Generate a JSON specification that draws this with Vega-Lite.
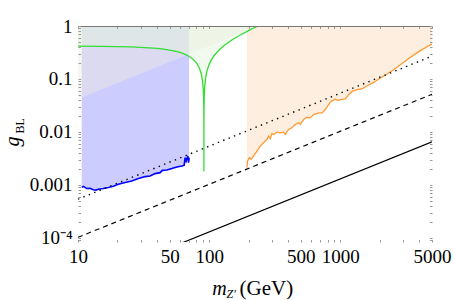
{
  "$schema": "https://vega.github.io/schema/vega-lite/v6.json",
  "width": 354,
  "height": 216,
  "autosize": "none",
  "padding": {"left": 78, "top": 26, "right": 22, "bottom": 58},
  "background": "white",
  "config": {"view": {"stroke": null}, "axis": {"grid": false}},
  "datasets": {
    "blue": [
      {"m": 10.67, "g": 0.00090}, {"m": 10.98, "g": 0.00094}, {"m": 11.3, "g": 0.00090}, {"m": 11.65, "g": 0.00086},
      {"m": 12.35, "g": 0.00087}, {"m": 13.09, "g": 0.00081}, {"m": 13.7, "g": 0.00080}, {"m": 14.29, "g": 0.00083},
      {"m": 15.6, "g": 0.00086}, {"m": 17.03, "g": 0.00090}, {"m": 18.6, "g": 0.00095}, {"m": 20.3, "g": 0.00103},
      {"m": 22.85, "g": 0.00111}, {"m": 25.7, "g": 0.00119}, {"m": 28.87, "g": 0.00132}, {"m": 32.48, "g": 0.00144},
      {"m": 35.44, "g": 0.00148}, {"m": 38.71, "g": 0.00164}, {"m": 42.27, "g": 0.00171}, {"m": 44.01, "g": 0.00189},
      {"m": 47.55, "g": 0.00192}, {"m": 51.92, "g": 0.00204}, {"m": 56.68, "g": 0.00218}, {"m": 61.89, "g": 0.00228},
      {"m": 64.45, "g": 0.00235}, {"m": 65.58, "g": 0.00328}, {"m": 66.75, "g": 0.00283}, {"m": 68.78, "g": 0.00352},
      {"m": 69.6, "g": 0.00264}, {"m": 70.37, "g": 0.00328}
    ],
    "orange": [
      {"m": 194, "g": 0.00213}, {"m": 196.1, "g": 0.00283}, {"m": 203.1, "g": 0.00328}, {"m": 209.3, "g": 0.00305},
      {"m": 217.9, "g": 0.00352}, {"m": 231.3, "g": 0.00437}, {"m": 245.1, "g": 0.00542}, {"m": 259.8, "g": 0.00627},
      {"m": 275.8, "g": 0.00723}, {"m": 283.6, "g": 0.00834}, {"m": 292.2, "g": 0.00745}, {"m": 301.1, "g": 0.00937},
      {"m": 309.6, "g": 0.00898}, {"m": 328.7, "g": 0.00991}, {"m": 348.3, "g": 0.00966}, {"m": 369.1, "g": 0.00991},
      {"m": 380.3, "g": 0.00898}, {"m": 403.0, "g": 0.01115}, {"m": 428.0, "g": 0.01199}, {"m": 453.5, "g": 0.01383},
      {"m": 480.6, "g": 0.01489}, {"m": 495.2, "g": 0.01383}, {"m": 524.7, "g": 0.01717}, {"m": 556.9, "g": 0.01897},
      {"m": 590.2, "g": 0.01849}, {"m": 625.5, "g": 0.02132}, {"m": 683.1, "g": 0.02296}, {"m": 725.2, "g": 0.02296},
      {"m": 768.5, "g": 0.02648}, {"m": 814.4, "g": 0.03284}, {"m": 849.4, "g": 0.03787}, {"m": 915.6, "g": 0.0415},
      {"m": 960, "g": 0.03954}, {"m": 1000, "g": 0.04077}, {"m": 1092, "g": 0.04203}, {"m": 1157, "g": 0.0506},
      {"m": 1228, "g": 0.0583}, {"m": 1341, "g": 0.0629}, {"m": 1464, "g": 0.0648}, {"m": 1599, "g": 0.0747},
      {"m": 1796, "g": 0.0861}, {"m": 2020, "g": 0.1042}, {"m": 2273, "g": 0.1239}, {"m": 2552, "g": 0.1492},
      {"m": 2871, "g": 0.1852}, {"m": 3230, "g": 0.2299}, {"m": 3627, "g": 0.2853}, {"m": 4081, "g": 0.3436},
      {"m": 4589, "g": 0.4087}, {"m": 4864, "g": 0.4399}, {"m": 5000, "g": 0.4534}
    ],
    "green": [
      {"m": 10, "g": 0.4175}, {"m": 15, "g": 0.4143}, {"m": 20, "g": 0.4098}, {"m": 25, "g": 0.4039},
      {"m": 30, "g": 0.3966}, {"m": 35, "g": 0.3878}, {"m": 40, "g": 0.3774}, {"m": 45, "g": 0.3653},
      {"m": 50, "g": 0.3512}, {"m": 55, "g": 0.335}, {"m": 60, "g": 0.3163}, {"m": 65, "g": 0.2946},
      {"m": 70, "g": 0.2692}, {"m": 75, "g": 0.2389}, {"m": 80, "g": 0.2016}, {"m": 84, "g": 0.1635},
      {"m": 87, "g": 0.1259}, {"m": 89, "g": 0.0915}, {"m": 90, "g": 0.0677}, {"m": 90.7, "g": 0.0435},
      {"m": 91.0, "g": 0.0271}, {"m": 91.15, "g": 0.0125}, {"m": 91.19, "g": 0.0018}, {"m": 91.25, "g": 0.0152},
      {"m": 91.4, "g": 0.0285}, {"m": 91.8, "g": 0.0487}, {"m": 92.5, "g": 0.0714}, {"m": 94, "g": 0.1051},
      {"m": 96, "g": 0.1381}, {"m": 100, "g": 0.189}, {"m": 105, "g": 0.2397}, {"m": 110, "g": 0.2834},
      {"m": 120, "g": 0.3593}, {"m": 130, "g": 0.4268}, {"m": 140, "g": 0.4893}, {"m": 150, "g": 0.5486},
      {"m": 165, "g": 0.6333}, {"m": 180, "g": 0.7148}, {"m": 200, "g": 0.8198}, {"m": 215, "g": 0.8968},
      {"m": 230, "g": 0.9725}, {"m": 235, "g": 0.9975}
    ],
    "tri": [{"m": 10, "g": 0.042}, {"m": 238, "g": 1.0}],
    "dotted": [{"m": 10, "g": 0.00054}, {"m": 5000, "g": 0.27}],
    "dashed": [{"m": 10, "g": 0.000103}, {"m": 5000, "g": 0.0515}],
    "solid": [{"m": 60, "g": 0.000078}, {"m": 5000, "g": 0.0065}]
  },
  "resolve": {"axis": {"x": "independent", "y": "independent"}},
  "layer": [
    {
      "data": {"name": "blue"},
      "mark": {"type": "area", "color": "#ccccff", "opacity": 1, "clip": true},
      "encoding": {
        "x": {"field": "m", "type": "quantitative", "scale": {"type": "log", "domain": [10, 5000], "nice": false},
          "axis": {"orient": "bottom", "values": [10, 50, 100, 500, 1000, 5000], "format": "d", "ticks": false, "domain": false,
            "labelFont": "Liberation Serif, Times New Roman, serif", "labelFontSize": 19, "labelColor": "#000", "labelPadding": 5, "labelFlush": false, "labelOverlap": false,
            "title": "(GeV)", "titleFont": "Liberation Serif, Times New Roman, serif", "titleFontSize": 21, "titleFontWeight": "normal", "titleColor": "#000",
            "titleX": 161, "titleY": 52, "titleAlign": "left", "titleBaseline": "alphabetic", "titlePadding": 0}},
        "y": {"field": "g", "type": "quantitative", "scale": {"type": "log", "domain": [0.000084, 1], "nice": false},
          "axis": {"orient": "left", "values": [0.0001, 0.001, 0.01, 0.1, 1], "ticks": false, "domain": false,
            "labelExpr": "datum.value > 0.5 ? '1' : datum.value > 0.05 ? '0.1' : datum.value > 0.005 ? '0.01' : datum.value > 0.0005 ? '0.001' : '10⁻⁴'",
            "labelFont": "Liberation Serif, Times New Roman, serif", "labelFontSize": 19, "labelColor": "#000", "labelPadding": 6, "labelFlush": false, "labelOverlap": false,
            "labelBaseline": "middle", "title": null}},
        "y2": {"datum": 1}
      }
    },
    {
      "data": {"name": "orange"},
      "mark": {"type": "area", "color": "#fdeee0", "opacity": 1, "clip": true},
      "encoding": {
        "x": {"field": "m", "type": "quantitative", "scale": {"type": "log", "domain": [10, 5000], "nice": false},
          "axis": {"orient": "bottom", "values": [10, 20, 30, 40, 50, 60, 70, 80, 90, 100, 200, 300, 400, 500, 600, 700, 800, 900, 1000, 2000, 3000, 4000, 5000],
            "labels": false, "domain": false, "ticks": true, "tickSize": -2.5, "tickColor": "#999", "tickWidth": 1, "title": null, "zindex": 2}},
        "y": {"field": "g", "type": "quantitative", "scale": {"type": "log", "domain": [0.000084, 1], "nice": false},
          "axis": {"orient": "left", "values": [0.00009, 0.0001, 0.0002, 0.0003, 0.0004, 0.0005, 0.0006, 0.0007, 0.0008, 0.0009, 0.001, 0.002, 0.003, 0.004, 0.005, 0.006, 0.007, 0.008, 0.009, 0.01, 0.02, 0.03, 0.04, 0.05, 0.06, 0.07, 0.08, 0.09, 0.1, 0.2, 0.3, 0.4, 0.5, 0.6, 0.7, 0.8, 0.9, 1],
            "labels": false, "domain": false, "ticks": true, "tickSize": -2.5, "tickColor": "#999", "tickWidth": 1, "title": null, "zindex": 2}},
        "y2": {"datum": 1}
      }
    },
    {
      "data": {"name": "tri"},
      "mark": {"type": "area", "color": "#f0ebe1", "opacity": 0.45, "clip": true},
      "encoding": {
        "x": {"field": "m", "type": "quantitative", "scale": {"type": "log", "domain": [10, 5000], "nice": false},
          "axis": {"orient": "bottom", "labels": false, "ticks": false, "domain": false, "title": "m", "titleFont": "Liberation Serif, Times New Roman, serif", "titleFontStyle": "italic",
            "titleFontSize": 20, "titleFontWeight": "normal", "titleColor": "#000", "titleX": 133.7, "titleY": 52, "titleAlign": "left", "titleBaseline": "alphabetic", "titlePadding": 0}},
        "y": {"field": "g", "type": "quantitative", "scale": {"type": "log", "domain": [0.000084, 1], "nice": false},
          "axis": {"orient": "left", "labels": false, "ticks": false, "domain": false, "title": "g", "titleFont": "Liberation Serif, Times New Roman, serif", "titleFontStyle": "italic",
            "titleFontSize": 20, "titleFontWeight": "normal", "titleColor": "#000", "titleAngle": 270, "titleX": -60, "titleY": 120, "titleAlign": "left", "titleBaseline": "alphabetic", "titlePadding": 0}},
        "y2": {"datum": 1}
      }
    },
    {
      "data": {"name": "green"},
      "mark": {"type": "area", "color": "#e2f4db", "opacity": 0.45, "clip": true},
      "encoding": {
        "x": {"field": "m", "type": "quantitative", "scale": {"type": "log", "domain": [10, 5000], "nice": false},
          "axis": {"orient": "top", "values": [10, 20, 30, 40, 50, 60, 70, 80, 90, 100, 200, 300, 400, 500, 600, 700, 800, 900, 1000, 2000, 3000, 4000, 5000],
            "labels": false, "domain": true, "domainColor": "#777", "domainWidth": 1, "ticks": true, "tickSize": -2.5, "tickColor": "#999", "tickWidth": 1, "title": null, "zindex": 2}},
        "y": {"field": "g", "type": "quantitative", "scale": {"type": "log", "domain": [0.000084, 1], "nice": false},
          "axis": {"orient": "right", "values": [0.00009, 0.0001, 0.0002, 0.0003, 0.0004, 0.0005, 0.0006, 0.0007, 0.0008, 0.0009, 0.001, 0.002, 0.003, 0.004, 0.005, 0.006, 0.007, 0.008, 0.009, 0.01, 0.02, 0.03, 0.04, 0.05, 0.06, 0.07, 0.08, 0.09, 0.1, 0.2, 0.3, 0.4, 0.5, 0.6, 0.7, 0.8, 0.9, 1],
            "labels": false, "domain": false, "ticks": true, "tickSize": -2.5, "tickColor": "#999", "tickWidth": 1, "title": null, "zindex": 2}},
        "y2": {"datum": 1}
      }
    },
    {
      "data": {"name": "green"},
      "mark": {"type": "line", "color": "#33dd33", "strokeWidth": 1.3, "clip": true},
      "encoding": {
        "x": {"field": "m", "type": "quantitative", "scale": {"type": "log", "domain": [10, 5000], "nice": false},
          "axis": {"orient": "bottom", "labels": false, "ticks": false, "domain": false, "title": "Z′", "titleFont": "Liberation Serif, Times New Roman, serif", "titleFontStyle": "italic",
            "titleFontSize": 12, "titleFontWeight": "normal", "titleColor": "#000", "titleX": 148, "titleY": 55.5, "titleAlign": "left", "titleBaseline": "alphabetic", "titlePadding": 0}},
        "y": {"field": "g", "type": "quantitative", "scale": {"type": "log", "domain": [0.000084, 1], "nice": false},
          "axis": {"orient": "left", "labels": false, "ticks": false, "domain": false, "title": "BL", "titleFont": "Liberation Serif, Times New Roman, serif",
            "titleFontSize": 12, "titleFontWeight": "normal", "titleColor": "#000", "titleAngle": 270, "titleX": -55, "titleY": 107, "titleAlign": "left", "titleBaseline": "alphabetic", "titlePadding": 0}}
      }
    },
    {
      "data": {"name": "blue"},
      "mark": {"type": "line", "color": "#0000ff", "strokeWidth": 1.6, "clip": true},
      "encoding": {
        "x": {"field": "m", "type": "quantitative", "scale": {"type": "log", "domain": [10, 5000], "nice": false}, "axis": null},
        "y": {"field": "g", "type": "quantitative", "scale": {"type": "log", "domain": [0.000084, 1], "nice": false}, "axis": null}
      }
    },
    {
      "data": {"name": "orange"},
      "mark": {"type": "line", "color": "#ff9a33", "strokeWidth": 1.3, "clip": true},
      "encoding": {
        "x": {"field": "m", "type": "quantitative", "scale": {"type": "log", "domain": [10, 5000], "nice": false}, "axis": null},
        "y": {"field": "g", "type": "quantitative", "scale": {"type": "log", "domain": [0.000084, 1], "nice": false}, "axis": null}
      }
    },
    {
      "data": {"name": "dotted"},
      "mark": {"type": "line", "color": "#000", "strokeWidth": 1.4, "strokeDash": [1.4, 4.4], "clip": true},
      "encoding": {
        "x": {"field": "m", "type": "quantitative", "scale": {"type": "log", "domain": [10, 5000], "nice": false}, "axis": null},
        "y": {"field": "g", "type": "quantitative", "scale": {"type": "log", "domain": [0.000084, 1], "nice": false}, "axis": null}
      }
    },
    {
      "data": {"name": "dashed"},
      "mark": {"type": "line", "color": "#000", "strokeWidth": 1.2, "strokeDash": [5, 4], "clip": true},
      "encoding": {
        "x": {"field": "m", "type": "quantitative", "scale": {"type": "log", "domain": [10, 5000], "nice": false}, "axis": null},
        "y": {"field": "g", "type": "quantitative", "scale": {"type": "log", "domain": [0.000084, 1], "nice": false}, "axis": null}
      }
    },
    {
      "data": {"name": "solid"},
      "mark": {"type": "line", "color": "#000", "strokeWidth": 1.2, "clip": true},
      "encoding": {
        "x": {"field": "m", "type": "quantitative", "scale": {"type": "log", "domain": [10, 5000], "nice": false}, "axis": null},
        "y": {"field": "g", "type": "quantitative", "scale": {"type": "log", "domain": [0.000084, 1], "nice": false}, "axis": null}
      }
    }
  ]
}
